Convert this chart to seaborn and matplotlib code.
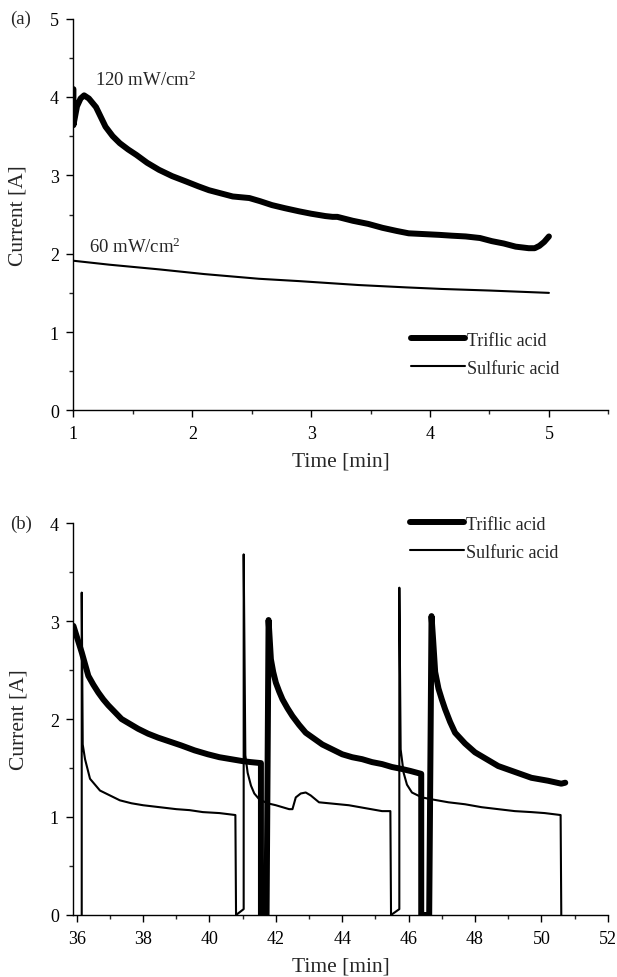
import numpy as np
import pandas as pd
import matplotlib
matplotlib.use("Agg")
import matplotlib.pyplot as plt
from matplotlib.ticker import MultipleLocator
import seaborn as sns

# ---- Panel (a) data ----
a_trif_t = [1.0, 1.0, 1.01, 1.03, 1.06, 1.09, 1.13, 1.19, 1.27, 1.33, 1.39, 1.46, 1.53, 1.62, 1.72,
            1.83, 1.95, 2.05, 2.14, 2.24, 2.34, 2.48, 2.57, 2.67, 2.78, 2.90, 3.0, 3.12, 3.18, 3.22,
            3.35, 3.48, 3.60, 3.72, 3.82, 3.95, 4.08, 4.18, 4.30, 4.42, 4.52, 4.62, 4.72, 4.83,
            4.88, 4.92, 4.96, 5.0]
a_trif_i = [4.1, 3.64, 3.72, 3.88, 3.98, 4.02, 3.98, 3.87, 3.62, 3.5, 3.41, 3.33, 3.26, 3.16, 3.07,
            2.99, 2.92, 2.86, 2.81, 2.77, 2.73, 2.71, 2.67, 2.62, 2.58, 2.54, 2.51, 2.48, 2.47, 2.47,
            2.42, 2.38, 2.33, 2.29, 2.26, 2.25, 2.24, 2.23, 2.22, 2.2, 2.16, 2.13, 2.09, 2.07,
            2.07, 2.1, 2.15, 2.22]
a_sulf_t = [1.0, 1.3, 1.72, 2.1, 2.56, 2.9, 3.4, 3.8, 4.1, 4.5, 5.0]
a_sulf_i = [1.91, 1.86, 1.80, 1.74, 1.68, 1.65, 1.60, 1.57, 1.55, 1.53, 1.50]

# ---- Panel (b) data ----
b_trif_t = [35.9, 36.15, 36.35, 36.5, 36.65, 36.8, 36.95, 37.15, 37.35, 37.6, 37.85, 38.15, 38.45,
            38.8, 39.15, 39.55, 39.95, 40.3, 40.65, 41.0, 41.25, 41.55,
            41.55, 41.72,
            41.78, 41.85, 41.92, 42.0, 42.1, 42.2, 42.35, 42.5, 42.7, 42.9, 43.15, 43.4, 43.7, 44.0,
            44.3, 44.6, 44.9, 45.2, 45.5, 45.8, 46.05, 46.38,
            46.38, 46.62,
            46.69, 46.74, 46.8, 46.9, 47.0, 47.1, 47.25, 47.4, 47.7, 48.0, 48.35, 48.7, 49.2, 49.7,
            50.2, 50.6, 50.72]
b_trif_i = [2.95, 2.68, 2.44, 2.35, 2.27, 2.20, 2.14, 2.07, 2.0, 1.95, 1.90, 1.85, 1.81,
            1.77, 1.73, 1.68, 1.64, 1.61, 1.59, 1.57, 1.56, 1.55,
            0.0, 0.0,
            3.01, 2.61, 2.48, 2.37, 2.28, 2.20, 2.11, 2.03, 1.94, 1.86, 1.80, 1.74, 1.69, 1.64,
            1.61, 1.59, 1.56, 1.54, 1.51, 1.49, 1.47, 1.44,
            0.0, 0.0,
            3.05, 2.80, 2.48, 2.31, 2.20, 2.10, 1.97, 1.86, 1.75, 1.66, 1.59, 1.52, 1.46, 1.40,
            1.37, 1.34, 1.35]
b_sulf_t = [36.15, 36.15, 36.18, 36.25, 36.4, 36.7, 37.0, 37.3, 37.65, 38.0, 38.5, 39.0, 39.4,
            39.8, 40.3, 40.78,
            40.8, 41.03,
            41.03, 41.08, 41.15, 41.25, 41.35, 41.5, 41.75, 42.0, 42.4, 42.5, 42.6, 42.75, 42.9,
            43.05, 43.3, 43.6, 44.2, 44.7, 45.2, 45.45,
            45.47, 45.72,
            45.72, 45.76, 45.85, 45.95, 46.1, 46.4, 46.7, 47.2, 47.7, 48.2, 48.7, 49.2, 49.7,
            50.1, 50.58, 50.6]
b_sulf_i = [0.0, 3.29, 1.74, 1.59, 1.39, 1.27, 1.22, 1.17, 1.14, 1.12, 1.10, 1.08, 1.07,
            1.05, 1.04, 1.02,
            0.0, 0.06,
            3.68, 1.63, 1.45, 1.32, 1.24, 1.18, 1.14, 1.12, 1.08, 1.08, 1.20, 1.24, 1.25,
            1.22, 1.15, 1.14, 1.12, 1.09, 1.06, 1.06,
            0.0, 0.06,
            3.34, 1.69, 1.45, 1.33, 1.25, 1.20, 1.18, 1.15, 1.13, 1.10, 1.08, 1.06, 1.05,
            1.04, 1.02, 0.0]

labels = ["Triflic acid", "Sulfuric acid"]

sns.set_theme(style="ticks")
plt.rcParams['font.family'] = ['Liberation Serif', 'DejaVu Serif']
plt.rcParams['mathtext.fontset'] = 'custom'
plt.rcParams['mathtext.rm'] = 'Liberation Serif'
plt.rcParams['mathtext.default'] = 'regular'
plt.rcParams['axes.linewidth'] = 1.0

fig = plt.figure(figsize=(6.17, 9.78), dpi=100)
ax1 = fig.add_axes([0.119, 0.5793, 0.867, 0.4007])
ax2 = fig.add_axes([0.119, 0.0634, 0.866, 0.4008])

TRIF_LW = 4.3
SULF_LW = 1.5

def style(ax, xpad):
    sns.despine(ax=ax)
    ax.tick_params(which='major', direction='out', length=5, width=1, labelsize=13,
                   colors='black', pad=5.5)
    ax.tick_params(which='minor', direction='out', length=3, width=1)
    for s in ['left', 'bottom']:
        ax.spines[s].set_color('black')
    ax.set_xlabel("Time [min]", fontsize=15.5, labelpad=xpad)
    ax.set_ylabel("Current [A]", fontsize=15.5)
    ax.yaxis.set_label_coords(-0.085, 0.5)

# Panel (a)
da1 = pd.DataFrame({"t": a_trif_t, "i": a_trif_i})
da2 = pd.DataFrame({"t": a_sulf_t, "i": a_sulf_i})
sns.lineplot(data=da1, x="t", y="i", ax=ax1, sort=False, estimator=None, color="black",
             lw=TRIF_LW, label=labels[0])
sns.lineplot(data=da2, x="t", y="i", ax=ax1, sort=False, estimator=None, color="black",
             lw=SULF_LW, label=labels[1])
ax1.set_xlim(1, 5.5)
ax1.set_ylim(0, 5)
ax1.xaxis.set_major_locator(MultipleLocator(1))
ax1.xaxis.set_minor_locator(MultipleLocator(0.5))
ax1.yaxis.set_major_locator(MultipleLocator(1))
ax1.yaxis.set_minor_locator(MultipleLocator(0.5))
style(ax1, 6.5)
ax1.text(1.18, 4.23, "120 mW/cm$^2$", fontsize=13.5, va='center', ha='left')
ax1.text(1.13, 2.09, "60 mW/cm$^2$", fontsize=13.5, va='center', ha='left')
ax1.legend(loc='lower left', bbox_to_anchor=(0.6, 0.045), frameon=False, fontsize=13,
           handlelength=3.0, handletextpad=0.1, labelspacing=0.6)
fig.text(0.016, 0.98, "(a)", fontsize=13.5, va='center', ha='left')

# Panel (b)
db1 = pd.DataFrame({"t": b_trif_t, "i": b_trif_i})
db2 = pd.DataFrame({"t": b_sulf_t, "i": b_sulf_i})
sns.lineplot(data=db1, x="t", y="i", ax=ax2, sort=False, estimator=None, color="black",
             lw=TRIF_LW, label=labels[0])
sns.lineplot(data=db2, x="t", y="i", ax=ax2, sort=False, estimator=None, color="black",
             lw=SULF_LW, label=labels[1])
ax2.set_xlim(35.9, 52)
ax2.set_ylim(0, 4)
ax2.xaxis.set_major_locator(MultipleLocator(2))
ax2.xaxis.set_minor_locator(MultipleLocator(1))
ax2.yaxis.set_major_locator(MultipleLocator(1))
ax2.yaxis.set_minor_locator(MultipleLocator(0.5))
style(ax2, 7.5)
ax2.legend(loc='upper left', bbox_to_anchor=(0.6, 1.06), frameon=False, fontsize=13,
           handlelength=3.0, handletextpad=0.1, labelspacing=0.6)
fig.text(0.016, 0.4642, "(b)", fontsize=13.5, va='center', ha='left')

fig.savefig("out.png", dpi=100)
